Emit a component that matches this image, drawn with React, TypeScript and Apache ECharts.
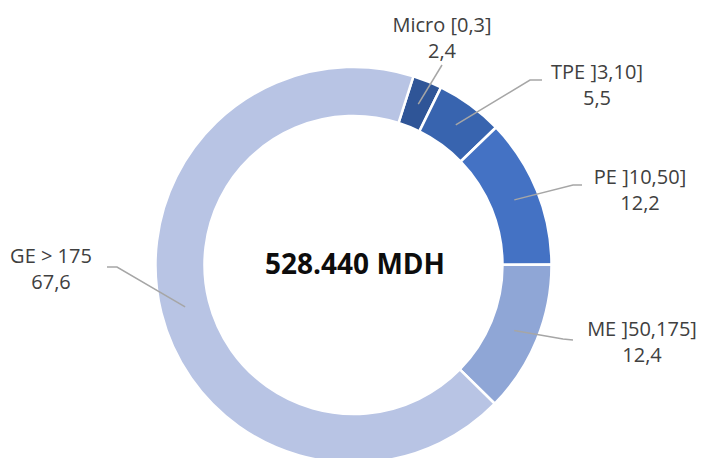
import React, { useEffect, useRef } from "react";
import * as echarts from "echarts";

// ---- data ----
const categories: string[] = ["Micro [0,3]", "TPE ]3,10]", "PE ]10,50]", "ME ]50,175]", "GE > 175"];
const values: number[] = [2.4, 5.5, 12.2, 12.4, 67.6];
const centerLabel = "528.440 MDH";

// ---- layout / style (not data) ----
const colors = ["#2F5597", "#3864AF", "#4472C4", "#8FA6D6", "#B8C4E4"];
const CENTER: [number, number] = [353.5, 265];
const R_IN = 149;
const R_OUT = 198;
const START_ANGLE = 72.4;
// label block centres and leader-line elbow/end points
const labelPos: [number, number][] = [
  [442, 37],
  [597, 84],
  [640, 189],
  [642, 341],
  [51, 268],
];
const lineTail: [number, number][][] = [
  [[442, 65]],
  [[530, 80], [542, 80]],
  [[573, 185], [582, 185]],
  [[563, 339], [573, 340]],
  [[117, 267], [107, 267]],
];

export default function App() {
  const ref = useRef<HTMLDivElement>(null);
  useEffect(() => {
    if (!ref.current) return;
    const chart = echarts.init(ref.current, undefined, { renderer: "svg" });
    const total = values.reduce((a, b) => a + b, 0);
    const midAngles: number[] = [];
    let cum = 0;
    values.forEach((v) => {
      const mid = cum + v / 2;
      midAngles.push(((START_ANGLE - (mid / total) * 360) * Math.PI) / 180);
      cum += v;
    });
    const rMid = (R_IN + R_OUT) / 2;
    const leaderLines = values.map((_, i) => {
      const a = midAngles[i];
      const start: [number, number] = [CENTER[0] + rMid * Math.cos(a), CENTER[1] - rMid * Math.sin(a)];
      return {
        type: "polyline",
        shape: { points: [start, ...lineTail[i]] },
        style: { stroke: "#A6A6A6", lineWidth: 1.5, fill: null },
        z: 20,
        silent: true,
      };
    });
    chart.setOption({
      animation: false,
      backgroundColor: "#ffffff",
      graphic: [
        {
          type: "text",
          x: 355,
          y: 263,
          style: {
            text: centerLabel,
            align: "center",
            verticalAlign: "middle",
            fontFamily: "Open Sans",
            fontWeight: "bold",
            fontSize: 28,
            fill: "#0d0d0d",
          },
          z: 10,
        },
        ...leaderLines,
      ],
      series: [
        {
          type: "pie",
          center: CENTER,
          radius: [R_IN, R_OUT],
          startAngle: START_ANGLE,
          clockwise: true,
          avoidLabelOverlap: false,
          itemStyle: { borderColor: "#ffffff", borderWidth: 2.5 },
          label: {
            show: true,
            position: "outside",
            color: "#404040",
            fontFamily: "Open Sans",
            fontSize: 20,
            lineHeight: 26,
            align: "center",
            formatter: (p: any) => `${p.name}\n${String(p.value).replace(".", ",")}`,
          },
          labelLine: { show: false },
          labelLayout: (params: any) => {
            const i = params.dataIndex;
            return {
              x: labelPos[i][0],
              y: labelPos[i][1],
              align: "center",
              verticalAlign: "middle",
            };
          },
          data: categories.map((name, i) => ({
            name,
            value: values[i],
            itemStyle: { color: colors[i] },
          })),
        },
      ],
    });
    return () => chart.dispose();
  }, []);
  return (
    <div
      ref={ref}
      style={{ position: "fixed", left: 0, top: 0, width: 704, height: 458 }}
    />
  );
}
